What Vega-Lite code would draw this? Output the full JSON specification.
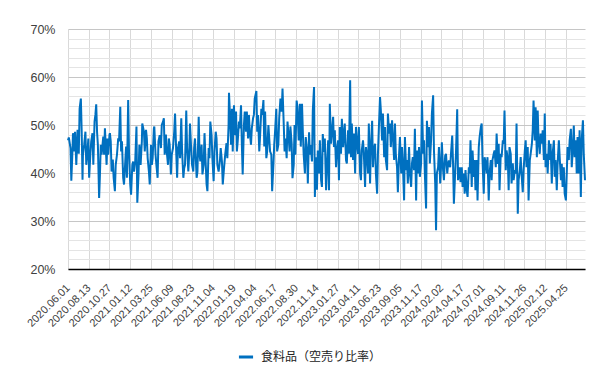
{
"$schema": "https://vega.github.io/schema/vega-lite/v6.json",
"width": 517,
"height": 240,
"autosize": {"type": "none"},
"padding": {"left": 68, "top": 29, "right": 30, "bottom": 111},
"background": "white",
"config": {"view": {"stroke": null}, "font": "Liberation Sans"},
"data": {"values": [
{"i":0,"v":46.8},{"i":2,"v":47.4},{"i":6,"v":45.2},{"i":8,"v":38.4},{"i":11,"v":45.2},{"i":12,"v":48.3},{"i":15,"v":44.5},{"i":17,"v":48.6},{"i":20,"v":41.7},{"i":23,"v":49},{"i":26,"v":44},{"i":28,"v":53.4},{"i":31,"v":55.5},{"i":33,"v":48.6},{"i":35,"v":38.6},{"i":36,"v":43.8},{"i":39,"v":45.9},{"i":42,"v":48.6},{"i":44,"v":41.7},{"i":47,"v":44.5},{"i":49,"v":47.2},{"i":51,"v":39},{"i":54,"v":44.1},{"i":56,"v":46.6},{"i":59,"v":48.3},{"i":61,"v":41.7},{"i":64,"v":50.7},{"i":66,"v":52.1},{"i":68,"v":54.3},{"i":70,"v":48.6},{"i":72,"v":45.9},{"i":75,"v":34.8},{"i":77,"v":39.7},{"i":79,"v":45.9},{"i":81,"v":43.8},{"i":85,"v":47.6},{"i":87,"v":43.8},{"i":89,"v":49.3},{"i":93,"v":41.7},{"i":95,"v":47.2},{"i":97,"v":43.8},{"i":100,"v":48},{"i":101,"v":48.3},{"i":103,"v":46.6},{"i":105,"v":40.3},{"i":108,"v":42.8},{"i":110,"v":39},{"i":113,"v":36.2},{"i":115,"v":41.7},{"i":118,"v":43.8},{"i":121,"v":47.2},{"i":123,"v":46.6},{"i":126,"v":53.8},{"i":128,"v":44.5},{"i":130,"v":46.6},{"i":133,"v":39},{"i":135,"v":37.6},{"i":138,"v":42.4},{"i":140,"v":45.5},{"i":142,"v":39},{"i":145,"v":55.2},{"i":147,"v":44.5},{"i":150,"v":37.6},{"i":152,"v":35.5},{"i":155,"v":41.7},{"i":157,"v":42.4},{"i":159,"v":40.3},{"i":162,"v":42.4},{"i":165,"v":49.7},{"i":167,"v":33.8},{"i":170,"v":39.7},{"i":172,"v":45.9},{"i":175,"v":41.7},{"i":178,"v":46.6},{"i":179,"v":50.3},{"i":183,"v":48.6},{"i":185,"v":44.5},{"i":188,"v":49},{"i":190,"v":47.2},{"i":192,"v":43.1},{"i":195,"v":40.3},{"i":197,"v":37.6},{"i":200,"v":45.9},{"i":202,"v":41.7},{"i":204,"v":43.1},{"i":207,"v":49.3},{"i":208,"v":49.7},{"i":211,"v":43.8},{"i":213,"v":41.7},{"i":216,"v":39},{"i":218,"v":46.6},{"i":221,"v":47.9},{"i":224,"v":45.2},{"i":226,"v":50},{"i":229,"v":50.7},{"i":231,"v":51.4},{"i":233,"v":43.8},{"i":236,"v":48},{"i":238,"v":44.5},{"i":241,"v":41.7},{"i":243,"v":47.2},{"i":245,"v":45.9},{"i":248,"v":39.7},{"i":250,"v":43.8},{"i":253,"v":45.2},{"i":256,"v":48.6},{"i":258,"v":52.4},{"i":261,"v":43.8},{"i":263,"v":39},{"i":265,"v":45.2},{"i":268,"v":46.6},{"i":270,"v":43.1},{"i":273,"v":51.4},{"i":275,"v":44.5},{"i":278,"v":39},{"i":280,"v":41},{"i":282,"v":41.7},{"i":285,"v":53},{"i":287,"v":45.2},{"i":290,"v":40.3},{"i":292,"v":43.8},{"i":294,"v":50.3},{"i":297,"v":44.8},{"i":299,"v":41.7},{"i":302,"v":40.3},{"i":304,"v":45.2},{"i":306,"v":47.2},{"i":310,"v":39},{"i":312,"v":40.3},{"i":315,"v":51.7},{"i":317,"v":43.8},{"i":319,"v":42.4},{"i":322,"v":45.9},{"i":324,"v":39.7},{"i":327,"v":41.7},{"i":329,"v":48.3},{"i":331,"v":43.8},{"i":334,"v":37.6},{"i":336,"v":36.2},{"i":339,"v":45.2},{"i":341,"v":43.1},{"i":343,"v":50.7},{"i":346,"v":47.9},{"i":348,"v":43.1},{"i":351,"v":38.3},{"i":353,"v":44.5},{"i":356,"v":48.6},{"i":358,"v":47.2},{"i":360,"v":41.7},{"i":363,"v":40.3},{"i":366,"v":42.4},{"i":368,"v":45.2},{"i":371,"v":42.4},{"i":373,"v":37.6},{"i":376,"v":41},{"i":379,"v":44},{"i":382,"v":46.2},{"i":384,"v":43.1},{"i":387,"v":50},{"i":388,"v":56.7},{"i":390,"v":52.8},{"i":393,"v":45.9},{"i":395,"v":53.4},{"i":397,"v":44.5},{"i":400,"v":54.1},{"i":402,"v":47.9},{"i":405,"v":52.8},{"i":407,"v":44.5},{"i":409,"v":46.6},{"i":412,"v":50.7},{"i":414,"v":49.3},{"i":417,"v":54.1},{"i":419,"v":45.9},{"i":421,"v":39.7},{"i":424,"v":50},{"i":426,"v":52.8},{"i":429,"v":48.6},{"i":431,"v":52.8},{"i":434,"v":47.2},{"i":436,"v":52.1},{"i":438,"v":48.6},{"i":441,"v":45.9},{"i":443,"v":49.3},{"i":446,"v":51.4},{"i":448,"v":52.1},{"i":450,"v":55.5},{"i":454,"v":57.1},{"i":456,"v":48.6},{"i":458,"v":52.1},{"i":461,"v":44.5},{"i":463,"v":47.9},{"i":466,"v":53.4},{"i":468,"v":52.1},{"i":471,"v":55.2},{"i":473,"v":45.5},{"i":475,"v":52.8},{"i":478,"v":43.1},{"i":480,"v":44.5},{"i":483,"v":50},{"i":485,"v":47.2},{"i":487,"v":44.5},{"i":490,"v":43.8},{"i":492,"v":36.2},{"i":495,"v":41.7},{"i":497,"v":45.9},{"i":499,"v":48.6},{"i":502,"v":53.4},{"i":504,"v":44.5},{"i":507,"v":45.9},{"i":509,"v":51.4},{"i":512,"v":55.5},{"i":515,"v":52.8},{"i":517,"v":57.6},{"i":520,"v":50},{"i":522,"v":44.5},{"i":524,"v":47.2},{"i":527,"v":43.1},{"i":529,"v":50.7},{"i":532,"v":47.2},{"i":534,"v":44.5},{"i":536,"v":49.7},{"i":539,"v":46.2},{"i":541,"v":38.9},{"i":544,"v":41.7},{"i":546,"v":50},{"i":548,"v":43.8},{"i":551,"v":55.1},{"i":553,"v":53.8},{"i":556,"v":46.8},{"i":559,"v":54.4},
{"i":561,"v":45.5},{"i":564,"v":54.4},{"i":566,"v":48.5},{"i":568,"v":43.8},{"i":571,"v":39.9},{"i":573,"v":47.5},{"i":576,"v":44.7},{"i":578,"v":37.8},{"i":581,"v":48.5},{"i":583,"v":43.8},{"i":585,"v":45.8},{"i":588,"v":42.4},{"i":590,"v":53},{"i":593,"v":57.9},{"i":595,"v":35},{"i":597,"v":43.3},{"i":600,"v":36.5},{"i":602,"v":44.7},{"i":605,"v":39.9},{"i":607,"v":46.8},{"i":610,"v":38.5},{"i":612,"v":37.1},{"i":614,"v":48.1},{"i":617,"v":44.4},{"i":619,"v":47.2},{"i":622,"v":36.4},{"i":624,"v":41.2},{"i":627,"v":46.8},{"i":629,"v":36.4},{"i":631,"v":54.4},{"i":634,"v":46.1},{"i":636,"v":48.2},{"i":639,"v":51.7},{"i":641,"v":45.4},{"i":643,"v":48.9},{"i":646,"v":41.2},{"i":648,"v":44.7},{"i":651,"v":46.8},{"i":653,"v":38.5},{"i":655,"v":49.6},{"i":658,"v":44},{"i":660,"v":51.3},{"i":663,"v":45.4},{"i":665,"v":48.2},{"i":667,"v":50.3},{"i":670,"v":42.7},{"i":672,"v":42},{"i":675,"v":48.9},{"i":677,"v":44},{"i":680,"v":59.3},{"i":682,"v":43.3},{"i":684,"v":50.3},{"i":687,"v":42.7},{"i":689,"v":48.2},{"i":692,"v":39.9},{"i":694,"v":49.6},{"i":696,"v":46.8},{"i":699,"v":44},{"i":701,"v":49.6},{"i":704,"v":39.9},{"i":706,"v":38.5},{"i":708,"v":44.7},{"i":711,"v":46.8},{"i":713,"v":44},{"i":716,"v":37.1},{"i":718,"v":45.4},{"i":721,"v":43.3},{"i":723,"v":39.9},{"i":725,"v":50.3},{"i":728,"v":37.8},{"i":730,"v":45.4},{"i":733,"v":50.9},{"i":735,"v":41.2},{"i":737,"v":44.7},{"i":740,"v":46.1},{"i":742,"v":39.9},{"i":745,"v":35.7},{"i":747,"v":44},{"i":749,"v":48.9},{"i":752,"v":55.8},{"i":754,"v":53},{"i":757,"v":46.8},{"i":759,"v":52.4},{"i":762,"v":43.3},{"i":764,"v":49.6},{"i":766,"v":42.7},{"i":769,"v":40.6},{"i":771,"v":52.4},{"i":774,"v":48.2},{"i":776,"v":50.3},{"i":778,"v":45.4},{"i":781,"v":51},{"i":783,"v":47.5},{"i":786,"v":42.7},{"i":788,"v":50.3},{"i":790,"v":44},{"i":793,"v":41.2},{"i":795,"v":36},{"i":798,"v":44},{"i":800,"v":47.5},{"i":803,"v":39.9},{"i":805,"v":45.4},{"i":807,"v":42},{"i":810,"v":34.3},{"i":812,"v":47.5},{"i":815,"v":40.6},{"i":817,"v":42.7},{"i":819,"v":37.8},{"i":822,"v":45.4},{"i":824,"v":39.9},{"i":827,"v":37.1},{"i":829,"v":42},{"i":831,"v":43.3},{"i":834,"v":40.6},{"i":836,"v":49.2},{"i":839,"v":34.3},{"i":841,"v":44.7},{"i":844,"v":39.9},{"i":846,"v":45.4},{"i":848,"v":39.2},{"i":851,"v":42},{"i":853,"v":55.1},{"i":856,"v":44},{"i":858,"v":46.8},{"i":860,"v":39.9},{"i":863,"v":32.6},{"i":865,"v":50.9},{"i":868,"v":45.4},{"i":870,"v":49.6},{"i":872,"v":42},{"i":875,"v":46.8},{"i":877,"v":52.4},{"i":880,"v":56.2},{"i":882,"v":44.7},{"i":885,"v":37.8},{"i":887,"v":28.1},{"i":889,"v":39.9},{"i":892,"v":41.2},{"i":894,"v":45.4},{"i":897,"v":37.8},{"i":899,"v":41.2},{"i":901,"v":46.4},{"i":904,"v":40.6},{"i":906,"v":38.5},{"i":909,"v":43.6},{"i":911,"v":44},{"i":914,"v":39.9},{"i":916,"v":41.9},{"i":918,"v":42.6},{"i":921,"v":41.2},{"i":923,"v":44},{"i":926,"v":47.8},{"i":928,"v":41.9},{"i":930,"v":33.6},{"i":933,"v":39.9},{"i":935,"v":44},{"i":938,"v":53.3},{"i":940,"v":38.5},{"i":942,"v":39.9},{"i":944,"v":41.2},{"i":946,"v":38.1},{"i":949,"v":41.2},{"i":951,"v":37.1},{"i":954,"v":39.9},{"i":956,"v":35.7},{"i":958,"v":40.6},{"i":961,"v":36.4},{"i":963,"v":35},{"i":966,"v":41.2},{"i":968,"v":39.9},{"i":970,"v":46.8},{"i":973,"v":37.1},{"i":975,"v":44.7},{"i":978,"v":39.2},{"i":980,"v":42.7},{"i":982,"v":36.4},{"i":985,"v":42.7},{"i":987,"v":34.3},{"i":990,"v":45.4},{"i":992,"v":47.5},{"i":995,"v":49.6},{"i":997,"v":50.3},{"i":999,"v":42.7},{"i":1002,"v":35.7},{"i":1004,"v":43.3},{"i":1007,"v":42},{"i":1009,"v":39.9},{"i":1011,"v":43.3},{"i":1014,"v":34.3},{"i":1016,"v":39.9},{"i":1019,"v":42.7},{"i":1021,"v":38.5},{"i":1023,"v":42.7},{"i":1026,"v":44},{"i":1028,"v":44.7},{"i":1031,"v":41.2},{"i":1033,"v":48.2},{"i":1036,"v":41.9},{"i":1038,"v":46.1},{"i":1040,"v":36.4},{"i":1043,"v":44},{"i":1045,"v":43.3},{"i":1048,"v":46.8},{"i":1050,"v":46.1},{"i":1052,"v":53},{"i":1055,"v":40.6},{"i":1057,"v":44.7},{"i":1060,"v":42.7},{"i":1062,"v":36.4},{"i":1064,"v":45.4},{"i":1067,"v":44},{"i":1069,"v":37.8},{"i":1072,"v":42},{"i":1074,"v":38.5},{"i":1077,"v":40.6},{"i":1079,"v":39.9},{"i":1081,"v":50.3},{"i":1084,"v":31.5},{"i":1086,"v":38.5},{"i":1089,"v":40.6},{"i":1091,"v":43.3},{"i":1093,"v":39.9},{"i":1096,"v":36},{"i":1098,"v":40.6},{"i":1101,"v":44.7},{"i":1103,"v":46.8},{"i":1105,"v":41.2},{"i":1108,"v":45.4},{"i":1110,"v":34.3},{"i":1113,"v":42.7},{"i":1115,"v":44},{"i":1118,"v":46.1},{"i":1120,"v":48.9},{"i":1122,"v":55.1},{"i":1125,"v":46.8},{"i":1127,"v":53.7},{"i":1130,"v":43.3},{"i":1132,"v":53},{"i":1134,"v":46.8},{"i":1137,"v":44},{"i":1139,"v":48.2},{"i":1142,"v":46.1},{"i":1144,"v":48.9},{"i":1147,"v":42.7},{"i":1149,"v":52.4},{"i":1151,"v":41.2},{"i":1154,"v":44},{"i":1156,"v":39.9},{"i":1159,"v":46.8},{"i":1161,"v":42.7},{"i":1163,"v":46.1},{"i":1166,"v":37.8},{"i":1168,"v":44},{"i":1171,"v":46.8},{"i":1173,"v":39.2},{"i":1175,"v":42.7},{"i":1178,"v":36.4},{"i":1180,"v":41.9},{"i":1183,"v":46.8},{"i":1185,"v":43.3},{"i":1188,"v":38.5},{"i":1190,"v":41.9},{"i":1192,"v":37.1},{"i":1195,"v":41.2},{"i":1197,"v":35.7},{"i":1200,"v":34.3},{"i":1202,"v":39.9},{"i":1204,"v":45.4},{"i":1207,"v":42.7},{"i":1209,"v":46.8},{"i":1212,"v":49.2},{"i":1214,"v":41.2},{"i":1216,"v":44},{"i":1219,"v":49.9},{"i":1221,"v":43.3},{"i":1224,"v":46.8},{"i":1226,"v":39.9},{"i":1228,"v":47.5},{"i":1231,"v":39.9},{"i":1233,"v":48.9},{"i":1236,"v":35},{"i":1238,"v":46.8},{"i":1241,"v":51},{"i":1243,"v":44},{"i":1246,"v":38.5}
]},
"mark": {"type": "line", "strokeWidth": 2},
"encoding": {
"x": {"field": "i", "type": "quantitative",
"scale": {"domain": [0, 1246], "nice": false, "zero": false},
"axis": {"values": [0,50,100,150,200,250,300,350,400,450,500,550,600,650,700,750,800,850,900,950,1000,1050,1100,1150,1200],
"labelExpr": "['2020.06.01','2020.08.13','2020.10.27','2021.01.12','2021.03.25','2021.06.09','2021.08.23','2021.11.04','2022.01.19','2022.04.04','2022.06.17','2022.08.30','2022.11.14','2023.01.27','2023.04.11','2023.06.23','2023.09.05','2023.11.17','2024.02.02','2024.04.17','2024.07.01','2024.09.11','2024.11.26','2025.02.12','2025.04.25'][round(datum.value/50)]",
"title": null, "grid": true, "gridColor": "#d9d9d9", "ticks": false, "domainColor": "#000000", "domainWidth": 1.5,
"labelAngle": -45, "labelAlign": "right", "labelBaseline": "middle", "labelFontSize": 11, "labelColor": "#404040", "labelPadding": 17, "labelDx": 2, "labelOverlap": false, "labelFlush": false, "labelFont": "Liberation Sans"}},
"y": {"field": "v", "type": "quantitative",
"scale": {"domain": [20, 70], "nice": false, "zero": false},
"axis": {"values": [20,22,24,26,28,30,32,34,36,38,40,42,44,46,48,50,52,54,56,58,60,62,64,66,68,70],
"labelExpr": "datum.value % 10 === 0 ? datum.value + '%' : ''",
"gridColor": {"condition": {"test": "datum.value % 10 === 0", "value": "#c6c6c6"}, "value": "#e4e4e4"},
"domain": false, "ticks": false, "title": null, "labelFontSize": 12.5, "labelPadding": 13, "labelColor": "#404040", "labelFont": "Liberation Sans"}},
"color": {"datum": "食料品（空売り比率）", "scale": {"range": ["#0070C0"]},
"legend": {"orient": "none", "legendX": 169, "legendY": 319, "title": null, "symbolType": "stroke", "symbolStrokeWidth": 3, "symbolSize": 200, "labelFont": "Noto Sans CJK JP", "labelFontSize": 12, "labelColor": "#222222", "labelOffset": 6, "padding": 0}}
}
}
